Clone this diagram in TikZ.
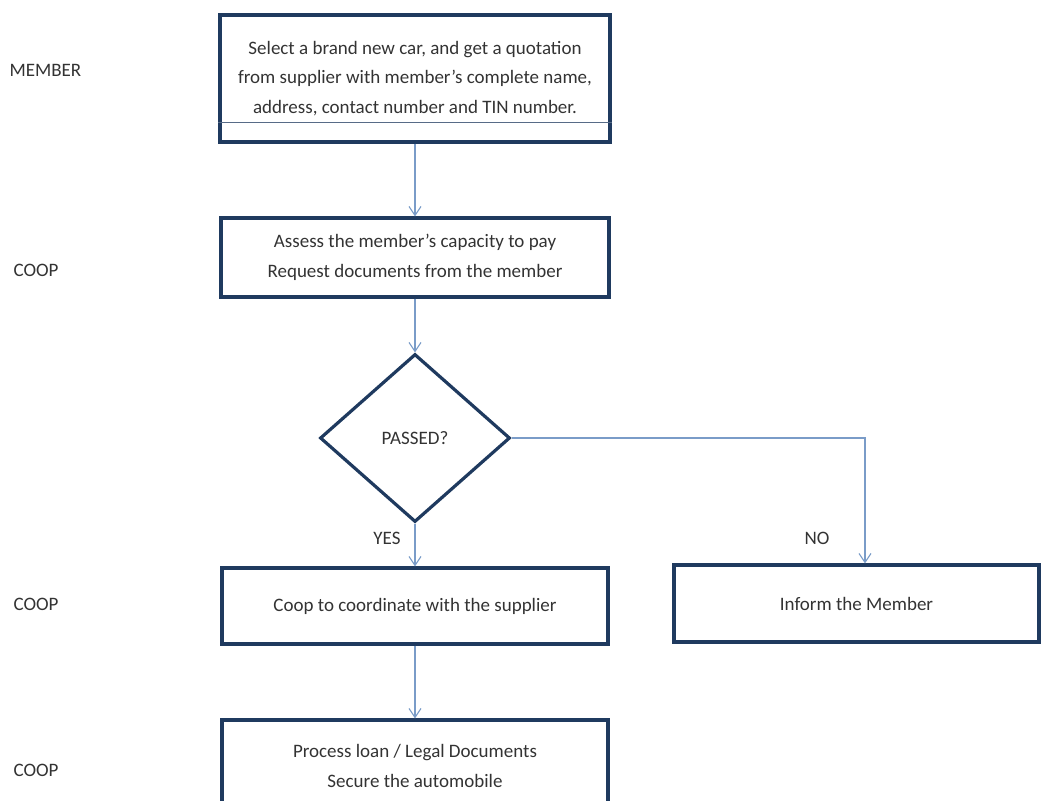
\documentclass[tikz,border=0pt]{standalone}
\usepackage{fontspec}
\setmainfont{Carlito}
\usetikzlibrary{shapes.geometric,arrows.meta}
\definecolor{boxline}{HTML}{1F3A5F}
\definecolor{flow}{HTML}{7A9CC8}
\definecolor{ink}{HTML}{333333}
\begin{document}
\begin{tikzpicture}[
    x=1pt, y=-1pt,
    font=\fontsize{19}{29.5}\selectfont,
    text=ink,
    box/.style={draw=boxline, line width=3.2pt, align=center, inner sep=0pt},
    flowline/.style={draw=flow, line width=1.3pt},
    >={Straight Barb[length=9pt,width=12pt,line width=1.1pt]}
  ]
  \useasboundingbox (0,0) rectangle (1048,800);

  % who does the step
  \node (Member) at (6,70) [anchor=west] {MEMBER};
  \node (CoopA) at (10,270) [anchor=west] {COOP};
  \node (CoopB) at (10,604) [anchor=west] {COOP};
  \node (CoopC) at (10,770) [anchor=west] {COOP};

  % the steps
  \node (Select) at (415,78.5) [box, minimum width=390pt, minimum height=127pt] {
    Select a brand new car, and get a quotation\\
    from supplier with member's complete name,\\
    address, contact number and TIN number.
  };
  \coordinate (Rule) at (0,122);
  \draw[boxline!75, line width=0.8pt] (Select.west |- Rule) -- (Select.east |- Rule);

  \node (Assess) at (415,257.5) [box, minimum width=388pt, minimum height=79pt] {
    Assess the member's capacity to pay\\
    Request documents from the member
  };
  \node (Passed) at (415,438) [box, shape=diamond, minimum width=190pt, minimum height=168pt] {PASSED?};
  \node (Coordinate) at (415,606) [box, minimum width=386pt, minimum height=76pt] {Coop to coordinate with the supplier};
  \node (Inform) at (856.5,603.5) [box, minimum width=365pt, minimum height=77pt] {Inform the Member};
  \node (Process) at (415,766) [box, minimum width=386pt, minimum height=92pt] {
    Process loan / Legal Documents\\
    Secure the automobile
  };

  % answers
  \node (Yes) at (387,538) {YES};
  \node (No) at (817,538) {NO};

  % connectors
  \coordinate (Turn) at (865,438);
  \draw[flowline,->] (Select) -- (Assess);
  \draw[flowline,->] (Assess) -- (Passed);
  \draw[flowline,->] (Passed) -- (Coordinate);
  \draw[flowline,->] (Passed.east) -- (Turn) -- (Turn |- Inform.north);
  \draw[flowline,->] (Coordinate) -- (Process);
\end{tikzpicture}
\end{document}
